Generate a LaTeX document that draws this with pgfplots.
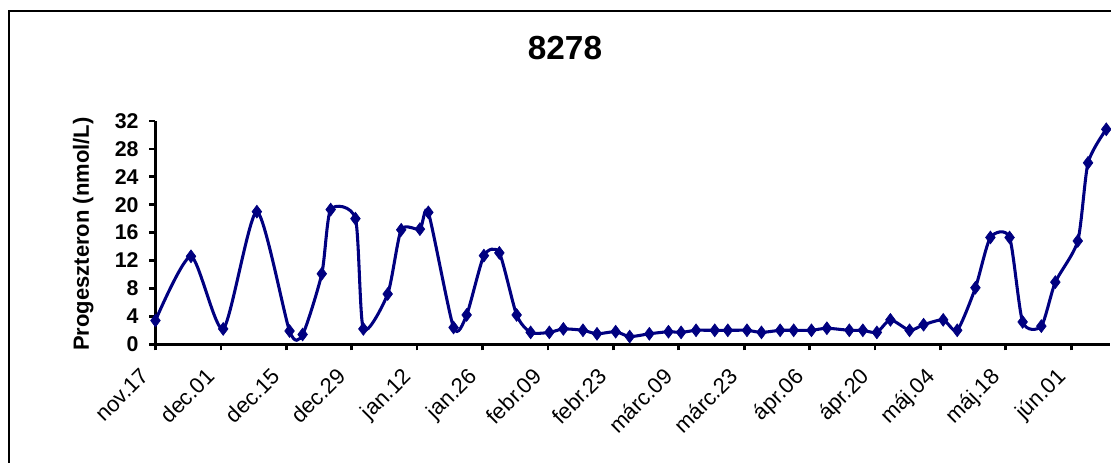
\documentclass[border=0pt]{standalone}
\usepackage{fontspec}
\setmainfont{Liberation Sans}
\usepackage{pgfplots}
\pgfplotsset{compat=1.18}
\definecolor{navy}{RGB}{0,0,128}
\pgfplotstableread{
day val
0 3.4
7.6 12.6
14.5 2.2
21.7 19.0
28.7 1.9
31.5 1.4
35.6 10.1
37.5 19.3
42.8 18.0
44.5 2.2
49.7 7.2
52.6 16.4
56.6 16.5
58.4 18.9
63.8 2.4
66.6 4.2
70.3 12.7
73.6 13.1
77.3 4.2
80.3 1.7
84.3 1.7
87.3 2.2
91.5 2.0
94.5 1.5
98.5 1.8
101.5 1.1
105.7 1.5
109.8 1.8
112.5 1.7
115.7 2.0
119.7 2.0
122.5 2.0
126.6 2.0
129.7 1.7
133.7 2.0
136.6 2.0
140.4 2.0
143.7 2.3
148.5 2.0
151.4 2.0
154.4 1.7
157.3 3.5
161.4 2.0
164.4 2.8
168.6 3.5
171.6 2.0
175.5 8.1
178.7 15.3
182.8 15.3
185.6 3.2
189.6 2.6
192.6 8.9
197.4 14.8
199.6 26.0
203.5 30.8
}\datatable
\begin{document}
\begin{tikzpicture}
\useasboundingbox (0,0) rectangle (833.25pt,346.5pt);
\draw[line width=0.8pt] (6.75pt,-5pt) -- (6.75pt,338.25pt) -- (840pt,338.25pt);
\node[font=\bfseries\fontsize{25}{25}\selectfont] at (423.75pt,310.5pt) {8278};
\node[font=\bfseries\fontsize{16.5}{16.5}\selectfont, rotate=90] at (62.5pt,171pt) {Progeszteron (nmol/L)};
\begin{axis}[
  at={(116.6pt,88.3pt)}, anchor=south west,
  scale only axis, width=715.9pt, height=167.5pt,
  xmin=0, xmax=204.3, ymin=0, ymax=32,
  axis lines*=left,
  axis line style={line width=2pt},
  tick align=outside,
  major tick length=4.5pt,
  every tick/.style={line width=2pt, black},
  xtick={0,14,...,196},
  xticklabels={nov.17,dec.01,dec.15,dec.29,jan.12,jan.26,febr.09,febr.23,márc.09,márc.23,ápr.06,ápr.20,máj.04,máj.18,jún.01},
  ytick={0,4,...,32},
  /pgf/number format/assume math mode=true,
  yticklabel style={font=\bfseries\fontsize{16}{16}\selectfont, inner sep=0pt, xshift=-8pt},
  xticklabel style={font=\fontsize{16.5}{16.5}\selectfont, inner sep=0pt, xshift=-12pt, yshift=-12pt, rotate=45, anchor=north east},
  clip=false,
]
\addplot[navy, line width=2.3pt, smooth, tension=0.4, mark=diamond*, mark size=4.8pt, mark options={fill=navy, line width=0.5pt}] table[x=day, y=val] {\datatable};
\end{axis}
\end{tikzpicture}
\end{document}
